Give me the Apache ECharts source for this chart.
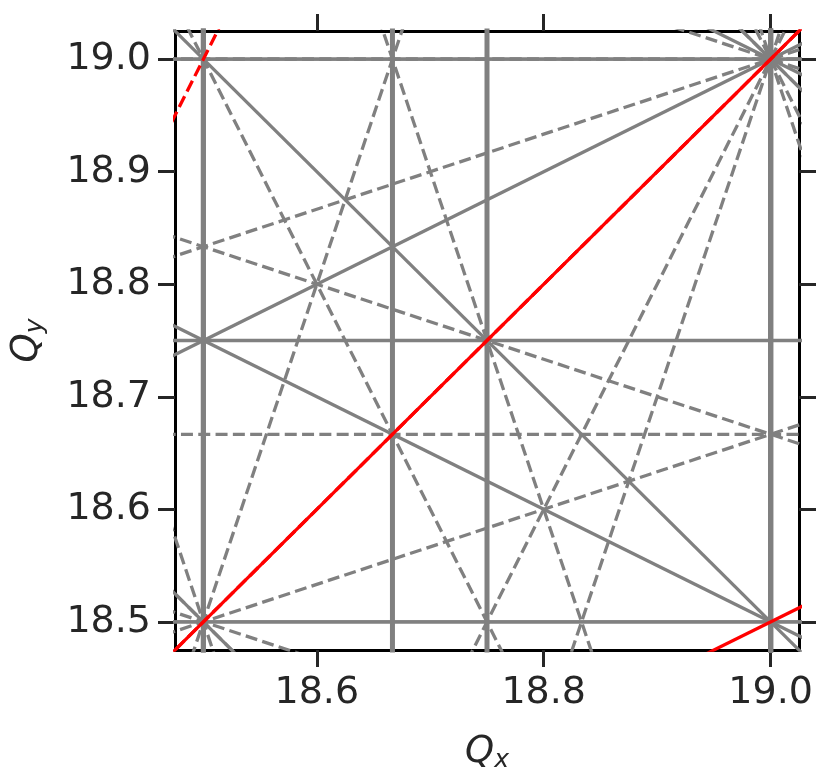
<!DOCTYPE html>
<html>
<head>
<meta charset="utf-8">
<script src="https://cdn.jsdelivr.net/npm/echarts@6/dist/echarts.min.js"></script>
<style>
  html, body { margin: 0; padding: 0; background: #fff; }
  #chart { width: 831px; height: 778px; }
</style>
</head>
<body>
<div id="chart"></div>
<script>
// tune range shown on both axes
const qMin = 18.475
const qMax = 19.025

// tick positions (labels are the same values)
const xTicks = [18.6, 18.8, 19.0]
const yTicks = [18.5, 18.6, 18.7, 18.8, 18.9, 19.0]

// resonance lines m*Qx + n*Qy = p, up to 4th order (grey)
const greyResonances = [
  [1, 0, 19], [0, 1, 19],
  [2, 0, 37], [2, 0, 38], [0, 2, 37], [0, 2, 38], [1, 1, 37], [1, 1, 38],
  [3, 0, 56], [3, 0, 57], [0, 3, 56], [0, 3, 57],
  [2, 1, 56], [2, 1, 57], [1, 2, 56], [1, 2, 57],
  [2, -1, 19], [1, -2, -19],
  [4, 0, 74], [4, 0, 75], [4, 0, 76], [0, 4, 74], [0, 4, 75], [0, 4, 76],
  [3, 1, 74], [3, 1, 75], [3, 1, 76], [1, 3, 74], [1, 3, 75], [1, 3, 76],
  [2, 2, 74], [2, 2, 75], [2, 2, 76],
  [3, -1, 37], [3, -1, 38], [1, -3, -37], [1, -3, -38]
]

// highlighted resonances (red)
const redResonances = [
  [1, -1, 0], [2, -2, 0], [2, -1, 18], [1, -2, -18]
]

const lineEnds = (m, n, p) => {
  if (n === 0) {
    const x = p / m
    return [[x, qMin - 1], [x, qMax + 1]]
  }
  const x0 = qMin - 0.01
  const x1 = qMax + 0.01
  return [[x0, (p - m * x0) / n], [x1, (p - m * x1) / n]]
}

const makeSeries = (res, color, z) => {
  return res.map(([m, n, p]) => ({
    type: 'line',
    data: lineEnds(m, n, p),
    showSymbol: false,
    silent: true,
    clip: true,
    z: z,
    lineStyle: {
      color: color,
      width: n === 0 ? 5 : 3.3,
      type: Math.abs(n) % 2 === 1 ? [12, 5.3] : 'solid',
      cap: 'butt'
    }
  }))
}

const tickColor = '#262626'
const labelFont = 'DejaVu Sans'

const rich = {
  q: { fontSize: 37, fontStyle: 'italic', fontFamily: labelFont, color: tickColor },
  s: { fontSize: 25, fontStyle: 'italic', fontFamily: labelFont, color: tickColor,
       verticalAlign: 'bottom', padding: [16, 0, 0, 0] }
}

const axisBase = {
  type: 'value',
  min: qMin,
  max: qMax,
  splitLine: { show: false },
  axisLine: { show: true, onZero: false, lineStyle: { color: '#000', width: 3 } },
  axisTick: { show: true, length: 17, lineStyle: { color: tickColor, width: 3 } }
}

const tickLabel = {
  margin: 24,
  fontSize: 38,
  fontFamily: labelFont,
  color: tickColor,
  formatter: (v) => v.toFixed(1)
}

const chart = echarts.init(document.getElementById('chart'), null, { renderer: 'canvas' })

chart.setOption({
  animation: false,
  backgroundColor: '#fff',
  grid: { left: 175, top: 31, right: 32, bottom: 124 },
  xAxis: [
    Object.assign({}, axisBase, {
      position: 'bottom',
      name: '{q|Q}{s|x}',
      nameLocation: 'middle',
      nameGap: 82,
      nameTextStyle: { rich: rich },
      axisTick: Object.assign({}, axisBase.axisTick, { customValues: xTicks }),
      axisLabel: Object.assign({ customValues: xTicks }, tickLabel)
    }),
    Object.assign({}, axisBase, {
      position: 'top',
      axisTick: Object.assign({}, axisBase.axisTick, { customValues: xTicks }),
      axisLabel: { show: false }
    })
  ],
  yAxis: [
    Object.assign({}, axisBase, {
      position: 'left',
      name: '{q|Q}{s|y}',
      nameLocation: 'middle',
      nameGap: 127,
      nameRotate: 90,
      nameTextStyle: { rich: rich },
      axisTick: Object.assign({}, axisBase.axisTick, { customValues: yTicks }),
      axisLabel: Object.assign({ customValues: yTicks }, tickLabel)
    }),
    Object.assign({}, axisBase, {
      position: 'right',
      axisTick: Object.assign({}, axisBase.axisTick, { customValues: yTicks }),
      axisLabel: { show: false }
    })
  ],
  series: makeSeries(greyResonances, '#808080', 2).concat(makeSeries(redResonances, '#ff0000', 3))
})
</script>
</body>
</html>
